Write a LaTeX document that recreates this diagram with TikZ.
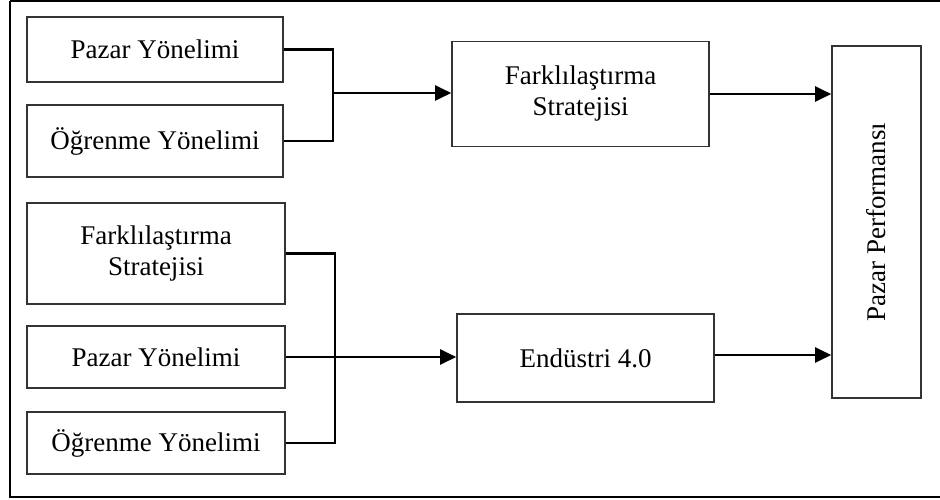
\documentclass[tikz,border=0pt]{standalone}
\usepackage{fontspec}
\setmainfont{Liberation Serif}
\usetikzlibrary{arrows.meta,calc}
\begin{document}
\begin{tikzpicture}[x=1pt,y=-1pt,
  box/.style={draw=black!80, line width=1.6pt, rectangle, inner sep=0pt,
    font=\fontsize{27}{31}\selectfont, align=center},
  link/.style={draw=black, line width=2.2pt},
  arr/.style={link, -{Triangle[length=16pt,width=15pt]}}]
  \useasboundingbox (0,0) rectangle (940,499);
  % outer frame
  \draw[line width=2.4pt] (10,1) -- (950,1) (10,1) -- (10,497) -- (950,497);

  % upper group
  \node[box, minimum width=256, minimum height=65] (pz1) at (155,49.5) {Pazar Yönelimi};
  \node[box, minimum width=256, minimum height=72] (og1) at (155,141) {Öğrenme Yönelimi};
  \node[box, minimum width=257, minimum height=105] (fs1) at (580.5,94) {Farklılaştırma\\Stratejisi};

  % performance box
  \node[box, minimum width=89, minimum height=352] (pp) at (876.5,222) {};
  \node[font=\fontsize{27}{31}\selectfont, rotate=90] (ppt) at (pp.center) {Pazar Performansı};

  % lower group
  \node[box, minimum width=258, minimum height=101] (fs2) at (156,253.5) {Farklılaştırma\\Stratejisi};
  \node[box, minimum width=258, minimum height=62] (pz2) at (156,357) {Pazar Yönelimi};
  \node[box, minimum width=258, minimum height=62] (og2) at (156,443) {Öğrenme Yönelimi};
  \node[box, minimum width=257, minimum height=88] (en) at (585.5,358) {Endüstri 4.0};

  % upper connectors
  \coordinate (j1) at (333,93);
  \draw[link] (pz1.east) -- (pz1.east -| j1) -- (og1.east -| j1) -- (og1.east);
  \draw[arr] (j1) -- (j1 -| fs1.west);
  \draw[arr] (fs1.east) -- (fs1.east -| pp.west);

  % lower connectors
  \coordinate (j2) at (335,357);
  \draw[link] (fs2.east) -- (fs2.east -| j2) -- (og2.east -| j2) -- (og2.east);
  \draw[arr] (pz2.east) -- (pz2.east -| en.west);
  \draw[arr] ($(en.east)+(0,-3)$) -- ($(en.east -| pp.west)+(0,-3)$);
\end{tikzpicture}
\end{document}
